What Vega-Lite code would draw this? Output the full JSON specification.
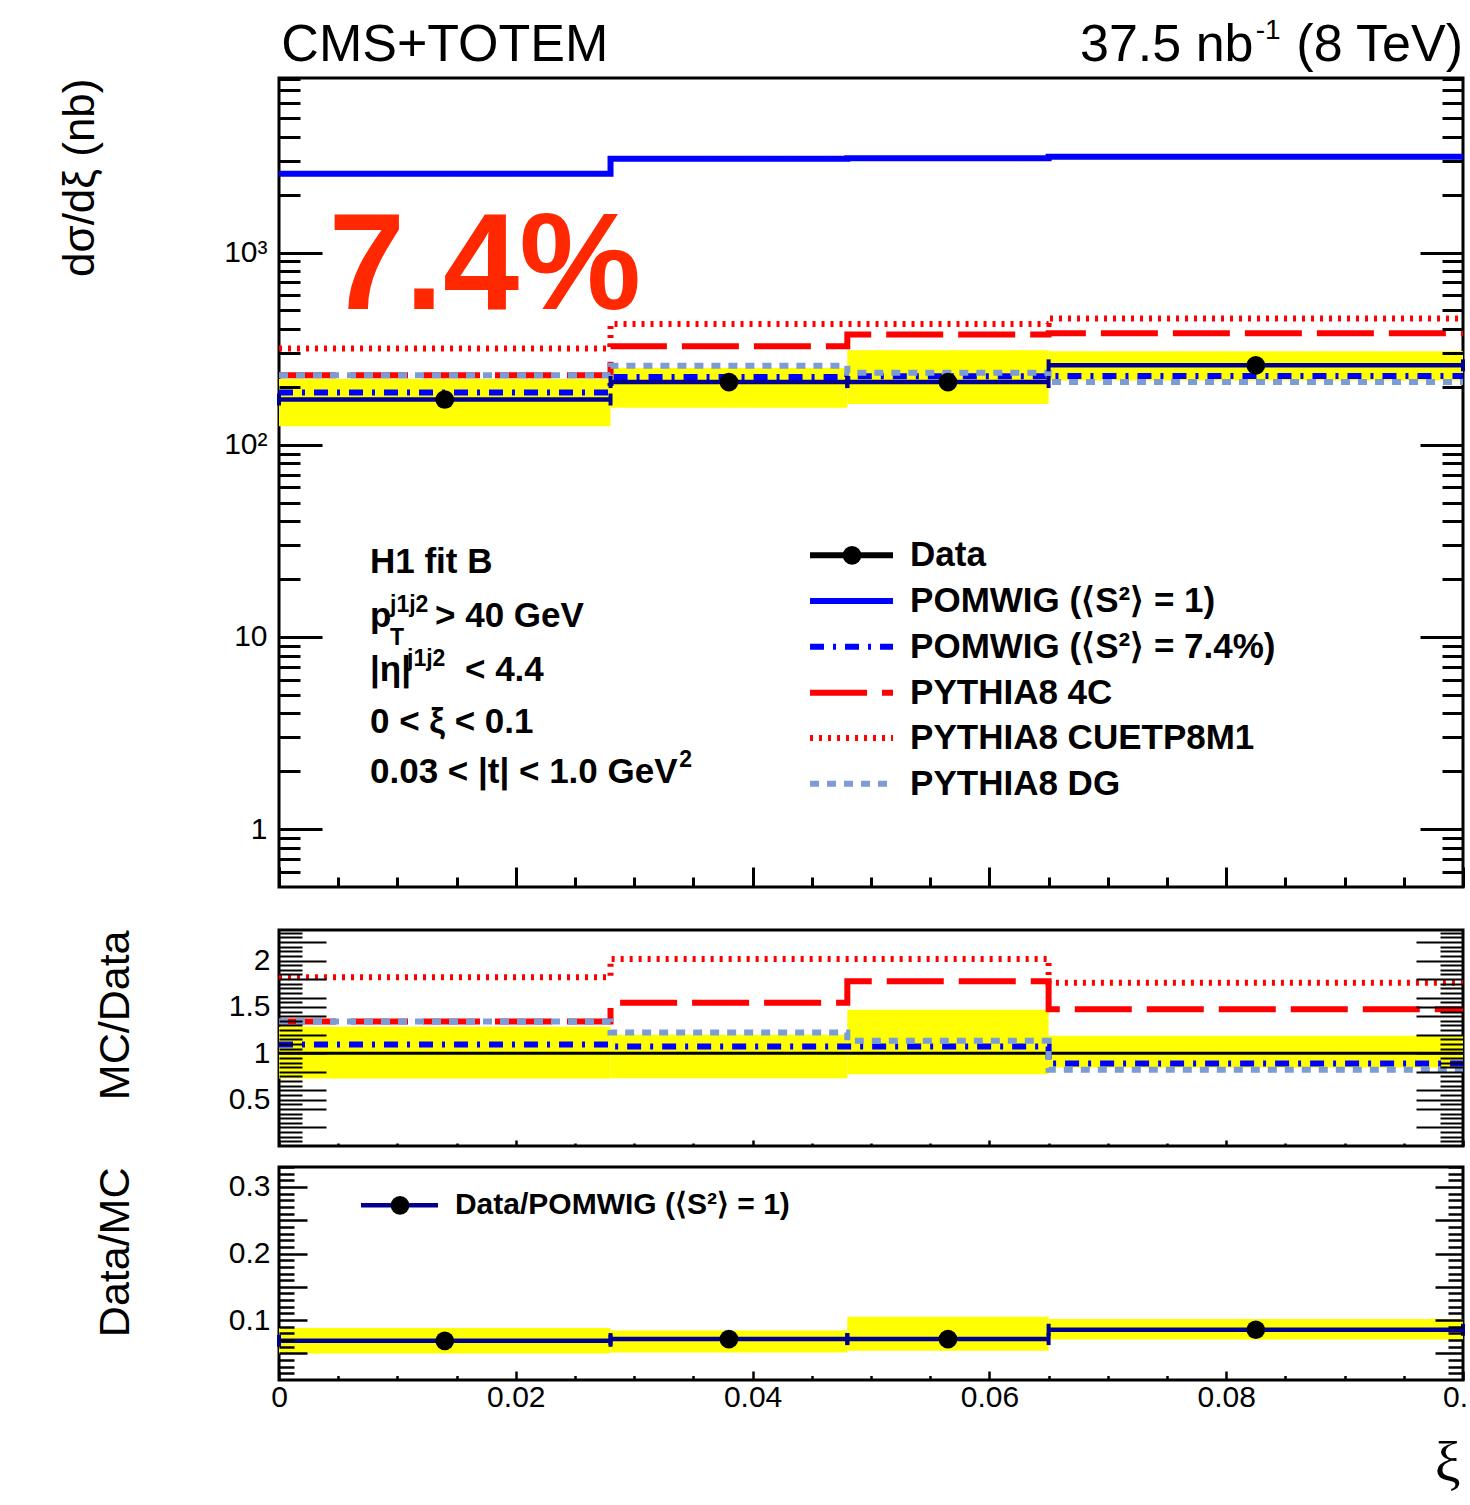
{
"$schema":"https://vega.github.io/schema/vega-lite/v6.json",
"background":"white",
"padding":{"left":56,"top":15,"right":0,"bottom":0},
"config":{"font":"Liberation Sans","view":{"stroke":"black","strokeWidth":3},
 "axis":{"labelFlush":false,"labelFont":"Liberation Sans","labelColor":"black","tickColor":"black","grid":false,"domain":false,"labelOverlap":false,"titleColor":"black","titleFontWeight":"normal","titleFont":"Liberation Sans"},
 "text":{"font":"Liberation Sans"}},
"datasets":{
 "bins":[
  {"xlo":0,"xhi":0.028,"xc":0.014,"data":172,"blo":125,"bhi":220,"rblo":0.728,"rbhi":1.286,"dm":0.0689,"dmlo":0.050,"dmhi":0.088},
  {"xlo":0.028,"xhi":0.048,"xc":0.038,"data":212,"blo":156,"bhi":251,"rblo":0.732,"rbhi":1.2,"dm":0.0715,"dmlo":0.0514,"dmhi":0.0845},
  {"xlo":0.048,"xhi":0.065,"xc":0.0565,"data":212,"blo":163,"bhi":310,"rblo":0.775,"rbhi":1.47,"dm":0.0715,"dmlo":0.054,"dmhi":0.105},
  {"xlo":0.065,"xhi":0.1,"xc":0.0825,"data":259,"blo":216,"bhi":307,"rblo":0.847,"rbhi":1.189,"dm":0.0855,"dmlo":0.071,"dmhi":0.1015}
 ],
 "mc":[
  {"s":"pw1","x":0,"v":2572},{"s":"pw1","x":0.028,"v":3081},{"s":"pw1","x":0.048,"v":3100},{"s":"pw1","x":0.065,"v":3150},{"s":"pw1","x":0.1,"v":3150},
  {"s":"pw74","x":0,"v":187,"r":1.094},{"s":"pw74","x":0.028,"v":225,"r":1.074},{"s":"pw74","x":0.048,"v":227,"r":1.074},{"s":"pw74","x":0.065,"v":228,"r":0.89},{"s":"pw74","x":0.1,"v":228,"r":0.89},
  {"s":"p4c","x":0,"v":230,"r":1.342},{"s":"p4c","x":0.028,"v":326,"r":1.546},{"s":"p4c","x":0.048,"v":375,"r":1.776},{"s":"p4c","x":0.065,"v":381,"r":1.474},{"s":"p4c","x":0.1,"v":381,"r":1.474},
  {"s":"cuetp","x":0,"v":317,"r":1.82},{"s":"cuetp","x":0.028,"v":425,"r":2.018},{"s":"cuetp","x":0.048,"v":425,"r":2.018},{"s":"cuetp","x":0.065,"v":454,"r":1.762},{"s":"cuetp","x":0.1,"v":454,"r":1.762},
  {"s":"dg","x":0,"v":230,"r":1.342},{"s":"dg","x":0.028,"v":258,"r":1.225},{"s":"dg","x":0.048,"v":237,"r":1.135},{"s":"dg","x":0.065,"v":212,"r":0.822},{"s":"dg","x":0.1,"v":212,"r":0.822}
 ],
 "legend":[
  {"s":"data","label":"Data","ly":26.6},
  {"s":"pw1","label":"POMWIG (⟨S²⟩ = 1)","ly":15.39},
  {"s":"pw74","label":"POMWIG (⟨S²⟩ = 7.4%)","ly":8.90},
  {"s":"p4c","label":"PYTHIA8 4C","ly":5.13},
  {"s":"cuetp","label":"PYTHIA8 CUETP8M1","ly":2.98},
  {"s":"dg","label":"PYTHIA8 DG","ly":1.725}
 ],
 "notes":[
  {"kind":"head","t":"CMS+TOTEM","x":0.0002,"y":9930},
  {"kind":"head","t":"37.5 nb","x":0.06765,"y":9930},
  {"kind":"headR","t":"(8 TeV)","x":0.1,"y":9930},
  {"kind":"headsup","t":"-1","x":0.0825,"y":12925},
  {"kind":"pct","t":"7.4%","x":0.0042,"y":509},
  {"kind":"info","t":"H1 fit B","x":0.007686,"y":21.61},
  {"kind":"info","t":"p","x":0.007686,"y":11.27},
  {"kind":"info","t":"> 40 GeV","x":0.013176,"y":11.27},
  {"kind":"info","t":"|η|","x":0.007686,"y":5.904},
  {"kind":"info","t":"< 4.4","x":0.015709,"y":5.904},
  {"kind":"info","t":"0 < ξ < 0.1","x":0.007686,"y":3.178},
  {"kind":"info","t":"0.03 < |t| < 1.0 GeV","x":0.007686,"y":1.746},
  {"kind":"sup","t":"j1j2","x":0.009375,"y":13.49},
  {"kind":"sup","t":"T","x":0.009375,"y":9.09},
  {"kind":"sup","t":"j1j2","x":0.010811,"y":7.068},
  {"kind":"sup","t":"2","x":0.0338,"y":2.107}
 ],
 "dmleg":[{"label":"Data/POMWIG (⟨S²⟩ = 1)","ly":0.2725}]
},
"bounds":"flush",
"spacing":43,
"vconcat":[
{
 "width":1184,"height":809,
 "resolve":{"axis":{"x":"independent","y":"independent"}},
 "layer":[
  {"data":{"name":"bins"},"mark":{"type":"rect","color":"#ffff00"},
   "encoding":{
    "x":{"field":"xlo","type":"quantitative","scale":{"domain":[0,0.1],"nice":false,"zero":false},
     "axis":{"orient":"bottom","values":[0,0.005,0.01,0.015,0.02,0.025,0.03,0.035,0.04,0.045,0.05,0.055,0.06,0.065,0.07,0.075,0.08,0.085,0.09,0.095,0.1],"labels":false,"title":null,"tickWidth":3,"tickSize":{"condition":{"test":"round(datum.value*1000) % 20 == 0","value":-20},"value":-10},"zindex":1}},
    "x2":{"field":"xhi"},
    "y":{"field":"blo","type":"quantitative","scale":{"type":"log","domain":[0.5,8100],"nice":false},
     "axis":{"orient":"left","values":[0.6,0.7,0.8,0.9,1,2,3,4,5,6,7,8,9,10,20,30,40,50,60,70,80,90,100,200,300,400,500,600,700,800,900,1000,2000,3000,4000,5000,6000,7000,8000],
      "labelExpr":"datum.value == 1000 ? '10³' : datum.value == 100 ? '10²' : datum.value == 10 ? '10' : datum.value == 1 ? '1' : ''",
      "labelFontSize":30,"labelPadding":55,"tickWidth":3,
      "tickSize":{"condition":{"test":"datum.value == 1 || datum.value == 10 || datum.value == 100 || datum.value == 1000","value":-43},"value":-21},
      "title":"dσ/dξ (nb)","titleFontSize":44,"titleAngle":270,"titleAlign":"right","titleBaseline":"middle","titleX":-199,"titleY":0,"zindex":1}},
    "y2":{"field":"bhi"}}},
  {"data":{"name":"mc"},"mark":{"type":"line","interpolate":"step-after","strokeWidth":6,"clip":true},
   "encoding":{
    "x":{"field":"x","type":"quantitative","scale":{"domain":[0,0.1],"nice":false,"zero":false},"axis":null},
    "y":{"field":"v","type":"quantitative","scale":{"type":"log","domain":[0.5,8100],"nice":false},"axis":null},
    "color":{"field":"s","type":"nominal","scale":{"domain":["data","pw1","pw74","p4c","cuetp","dg"],"range":["#000000","#0000ff","#0000ff","#ff0000","#ff0000","#7b9cd4"]},"legend":null},
    "strokeDash":{"field":"s","type":"nominal","scale":{"domain":["data","pw1","pw74","p4c","cuetp","dg"],"range":[[1,0],[1,0],[14,9,3,9],[57,15],[3,6],[9,8]]},"legend":null}}},
  {"data":{"name":"bins"},"mark":{"type":"rule","color":"#000090","strokeWidth":4.5},
   "encoding":{
    "x":{"field":"xlo","type":"quantitative","scale":{"domain":[0,0.1],"nice":false,"zero":false},"axis":null},
    "x2":{"field":"xhi"},
    "y":{"field":"data","type":"quantitative","scale":{"type":"log","domain":[0.5,8100],"nice":false},"axis":null}}},
  {"data":{"name":"bins"},"mark":{"type":"tick","orient":"vertical","size":12,"thickness":4,"color":"#000090","opacity":1},
   "encoding":{
    "x":{"field":"xlo","type":"quantitative","scale":{"domain":[0,0.1],"nice":false,"zero":false},"axis":null},
    "y":{"field":"data","type":"quantitative","scale":{"type":"log","domain":[0.5,8100],"nice":false},"axis":null}}},
  {"data":{"name":"bins"},"mark":{"type":"tick","orient":"vertical","size":12,"thickness":4,"color":"#000090","opacity":1},
   "encoding":{
    "x":{"field":"xhi","type":"quantitative","scale":{"domain":[0,0.1],"nice":false,"zero":false},"axis":null},
    "y":{"field":"data","type":"quantitative","scale":{"type":"log","domain":[0.5,8100],"nice":false},"axis":null}}},
  {"data":{"name":"bins"},"mark":{"type":"circle","size":350,"color":"black","opacity":1},
   "encoding":{
    "x":{"field":"xc","type":"quantitative","scale":{"domain":[0,0.1],"nice":false,"zero":false},"axis":null},
    "y":{"field":"data","type":"quantitative","scale":{"type":"log","domain":[0.5,8100],"nice":false},
     "axis":{"orient":"right","values":[0.6,0.7,0.8,0.9,1,2,3,4,5,6,7,8,9,10,20,30,40,50,60,70,80,90,100,200,300,400,500,600,700,800,900,1000,2000,3000,4000,5000,6000,7000,8000],"labels":false,"title":null,"tickWidth":3,
      "tickSize":{"condition":{"test":"datum.value == 1 || datum.value == 10 || datum.value == 100 || datum.value == 1000","value":-43},"value":-21},"zindex":1}}}},
  {"data":{"name":"legend"},"mark":{"type":"rule","strokeWidth":6},
   "encoding":{
    "x":{"datum":0.04485,"type":"quantitative","scale":{"domain":[0,0.1],"nice":false,"zero":false},"axis":null},
    "x2":{"datum":0.05186},
    "y":{"field":"ly","type":"quantitative","scale":{"type":"log","domain":[0.5,8100],"nice":false},"axis":null},
    "color":{"field":"s","type":"nominal","scale":{"domain":["data","pw1","pw74","p4c","cuetp","dg"],"range":["#000000","#0000ff","#0000ff","#ff0000","#ff0000","#7b9cd4"]},"legend":null},
    "strokeDash":{"field":"s","type":"nominal","scale":{"domain":["data","pw1","pw74","p4c","cuetp","dg"],"range":[[1,0],[1,0],[14,9,3,9],[57,15],[3,6],[9,8]]},"legend":null}}},
  {"data":{"name":"legend"},"transform":[{"filter":"datum.s == 'data'"}],"mark":{"type":"circle","size":350,"color":"black","opacity":1},
   "encoding":{
    "x":{"datum":0.0484,"type":"quantitative","scale":{"domain":[0,0.1],"nice":false,"zero":false},"axis":null},
    "y":{"field":"ly","type":"quantitative","scale":{"type":"log","domain":[0.5,8100],"nice":false},"axis":null}}},
  {"data":{"name":"legend"},"mark":{"type":"text","align":"left","baseline":"middle","fontSize":35,"fontWeight":"bold","color":"black"},
   "encoding":{
    "x":{"datum":0.05330,"type":"quantitative","scale":{"domain":[0,0.1],"nice":false,"zero":false},"axis":null},
    "y":{"field":"ly","type":"quantitative","scale":{"type":"log","domain":[0.5,8100],"nice":false},"axis":null},
    "text":{"field":"label"}}},
  {"data":{"name":"notes"},"transform":[{"filter":"datum.kind == 'info'"}],"mark":{"type":"text","align":"left","baseline":"alphabetic","fontSize":35,"fontWeight":"bold","color":"black"},
   "encoding":{
    "x":{"field":"x","type":"quantitative","scale":{"domain":[0,0.1],"nice":false,"zero":false},"axis":null},
    "y":{"field":"y","type":"quantitative","scale":{"type":"log","domain":[0.5,8100],"nice":false},"axis":null},
    "text":{"field":"t"}}},
  {"data":{"name":"notes"},"transform":[{"filter":"datum.kind == 'sup'"}],"mark":{"type":"text","align":"left","baseline":"alphabetic","fontSize":23,"fontWeight":"bold","color":"black"},
   "encoding":{
    "x":{"field":"x","type":"quantitative","scale":{"domain":[0,0.1],"nice":false,"zero":false},"axis":null},
    "y":{"field":"y","type":"quantitative","scale":{"type":"log","domain":[0.5,8100],"nice":false},"axis":null},
    "text":{"field":"t"}}},
  {"data":{"name":"notes"},"transform":[{"filter":"datum.kind == 'pct'"}],"mark":{"type":"text","align":"left","baseline":"alphabetic","fontSize":137,"fontWeight":"bold","color":"#ff2800"},
   "encoding":{
    "x":{"field":"x","type":"quantitative","scale":{"domain":[0,0.1],"nice":false,"zero":false},"axis":null},
    "y":{"field":"y","type":"quantitative","scale":{"type":"log","domain":[0.5,8100],"nice":false},"axis":null},
    "text":{"field":"t"}}},
  {"data":{"name":"notes"},"transform":[{"filter":"datum.kind == 'head'"}],"mark":{"type":"text","align":"left","baseline":"alphabetic","fontSize":52,"color":"black"},
   "encoding":{
    "x":{"field":"x","type":"quantitative","scale":{"domain":[0,0.1],"nice":false,"zero":false},"axis":null},
    "y":{"field":"y","type":"quantitative","scale":{"type":"log","domain":[0.5,8100],"nice":false},"axis":null},
    "text":{"field":"t"}}},
  {"data":{"name":"notes"},"transform":[{"filter":"datum.kind == 'headR'"}],"mark":{"type":"text","align":"right","baseline":"alphabetic","fontSize":52,"color":"black"},
   "encoding":{
    "x":{"field":"x","type":"quantitative","scale":{"domain":[0,0.1],"nice":false,"zero":false},"axis":null},
    "y":{"field":"y","type":"quantitative","scale":{"type":"log","domain":[0.5,8100],"nice":false},"axis":null},
    "text":{"field":"t"}}},
  {"data":{"name":"notes"},"transform":[{"filter":"datum.kind == 'headsup'"}],"mark":{"type":"text","align":"left","baseline":"alphabetic","fontSize":28,"color":"black"},
   "encoding":{
    "x":{"field":"x","type":"quantitative","scale":{"domain":[0,0.1],"nice":false,"zero":false},"axis":null},
    "y":{"field":"y","type":"quantitative","scale":{"type":"log","domain":[0.5,8100],"nice":false},"axis":null},
    "text":{"field":"t"}}}
 ]
},
{
 "bounds":"flush",
 "spacing":21,
 "vconcat":[
 {
  "width":1184,"height":216,
  "resolve":{"axis":{"x":"independent","y":"independent"}},
  "layer":[
   {"data":{"name":"bins"},"mark":{"type":"rect","color":"#ffff00"},
    "encoding":{
     "x":{"field":"xlo","type":"quantitative","scale":{"domain":[0,0.1],"nice":false,"zero":false},
      "axis":{"orient":"bottom","values":[0,0.005,0.01,0.015,0.02,0.025,0.03,0.035,0.04,0.045,0.05,0.055,0.06,0.065,0.07,0.075,0.08,0.085,0.09,0.095,0.1],"labels":false,"title":null,"tickWidth":2.5,"tickSize":{"condition":{"test":"round(datum.value*1000) % 20 == 0","value":-6},"value":-3},"zindex":1}},
     "x2":{"field":"xhi"},
     "y":{"field":"rblo","type":"quantitative","scale":{"domain":[0,2.33],"nice":false,"zero":false},
      "axis":{"orient":"left","values":[0.05,0.1,0.15,0.2,0.25,0.3,0.35,0.4,0.45,0.5,0.55,0.6,0.65,0.7,0.75,0.8,0.85,0.9,0.95,1,1.05,1.1,1.15,1.2,1.25,1.3,1.35,1.4,1.45,1.5,1.55,1.6,1.65,1.7,1.75,1.8,1.85,1.9,1.95,2,2.05,2.1,2.15,2.2,2.25,2.3],
       "labelExpr":"round(datum.value*100) % 50 == 0 ? toString(datum.value) : ''",
       "labelFontSize":30,"labelPadding":56,"tickWidth":2,
       "tickSize":{"condition":{"test":"round(datum.value*100) % 20 == 0 || round(datum.value*100) % 50 == 0","value":-47},"value":-23},
       "title":"MC/Data","titleFontSize":43,"titleAngle":270,"titleAlign":"right","titleBaseline":"middle","titleX":-164,"titleY":0,"zindex":1}},
     "y2":{"field":"rbhi"}}},
   {"data":{"values":[{}]},"mark":{"type":"rule","color":"black","strokeWidth":3},
    "encoding":{"y":{"datum":1,"type":"quantitative","scale":{"domain":[0,2.33],"nice":false,"zero":false},"axis":null}}},
   {"data":{"name":"mc"},"transform":[{"filter":"datum.s != 'pw1'"}],"mark":{"type":"line","interpolate":"step-after","strokeWidth":6,"clip":true},
    "encoding":{
     "x":{"field":"x","type":"quantitative","scale":{"domain":[0,0.1],"nice":false,"zero":false},"axis":null},
     "y":{"field":"r","type":"quantitative","scale":{"domain":[0,2.33],"nice":false,"zero":false},
      "axis":{"orient":"right","values":[0.05,0.1,0.15,0.2,0.25,0.3,0.35,0.4,0.45,0.5,0.55,0.6,0.65,0.7,0.75,0.8,0.85,0.9,0.95,1,1.05,1.1,1.15,1.2,1.25,1.3,1.35,1.4,1.45,1.5,1.55,1.6,1.65,1.7,1.75,1.8,1.85,1.9,1.95,2,2.05,2.1,2.15,2.2,2.25,2.3],"labels":false,"title":null,"tickWidth":2,
       "tickSize":{"condition":{"test":"round(datum.value*100) % 20 == 0 || round(datum.value*100) % 50 == 0","value":-47},"value":-23},"zindex":1}},
     "color":{"field":"s","type":"nominal","scale":{"domain":["data","pw1","pw74","p4c","cuetp","dg"],"range":["#000000","#0000ff","#0000ff","#ff0000","#ff0000","#7b9cd4"]},"legend":null},
     "strokeDash":{"field":"s","type":"nominal","scale":{"domain":["data","pw1","pw74","p4c","cuetp","dg"],"range":[[1,0],[1,0],[14,9,3,9],[57,15],[3,6],[9,8]]},"legend":null}}}
  ]
 },
 {
  "width":1184,"height":213,
  "resolve":{"axis":{"x":"independent","y":"independent"}},
  "layer":[
   {"data":{"name":"bins"},"mark":{"type":"rect","color":"#ffff00"},
    "encoding":{
     "x":{"field":"xlo","type":"quantitative","scale":{"domain":[0,0.1],"nice":false,"zero":false},
      "axis":{"orient":"bottom","values":[0,0.005,0.01,0.015,0.02,0.025,0.03,0.035,0.04,0.045,0.05,0.055,0.06,0.065,0.07,0.075,0.08,0.085,0.09,0.095,0.1],
       "labelExpr":"round(datum.value*1000) % 20 == 0 ? (datum.value >= 0.1 ? '0.' : toString(datum.value)) : ''",
       "labelOffset":{"condition":{"test":"datum.value >= 0.1","value":-8},"value":0},
       "labelFontSize":30,"labelPadding":11,"tickWidth":2.5,
       "tickSize":{"condition":{"test":"round(datum.value*1000) % 20 == 0","value":-9},"value":-4.5},
       "title":"ξ","titleFont":"Liberation Serif","titleFontSize":58,"titleAnchor":"end","titleAlign":"right","titleBaseline":"alphabetic","titleX":1181,"titleY":100,"zindex":1}},
     "x2":{"field":"xhi"},
     "y":{"field":"dmlo","type":"quantitative","scale":{"domain":[0.01,0.33],"nice":false,"zero":false},
      "axis":{"orient":"left","values":[0.02,0.03,0.04,0.05,0.06,0.07,0.08,0.09,0.1,0.11,0.12,0.13,0.14,0.15,0.16,0.17,0.18,0.19,0.2,0.21,0.22,0.23,0.24,0.25,0.26,0.27,0.28,0.29,0.3,0.31,0.32,0.33],
       "labelExpr":"round(datum.value*100) % 10 == 0 ? toString(datum.value) : ''",
       "labelFontSize":30,"labelPadding":37,"tickWidth":2.5,
       "tickSize":{"condition":{"test":"round(datum.value*100) % 5 == 0","value":-28},"value":-15},
       "title":"Data/MC","titleFontSize":43,"titleAngle":270,"titleAlign":"right","titleBaseline":"middle","titleX":-164,"titleY":0,"zindex":1}},
     "y2":{"field":"dmhi"}}},
   {"data":{"name":"bins"},"mark":{"type":"rule","color":"#000090","strokeWidth":4.5},
    "encoding":{
     "x":{"field":"xlo","type":"quantitative","scale":{"domain":[0,0.1],"nice":false,"zero":false},"axis":null},
     "x2":{"field":"xhi"},
     "y":{"field":"dm","type":"quantitative","scale":{"domain":[0.01,0.33],"nice":false,"zero":false},"axis":null}}},
   {"data":{"name":"bins"},"mark":{"type":"tick","orient":"vertical","size":12,"thickness":4,"color":"#000090","opacity":1},
    "encoding":{
     "x":{"field":"xlo","type":"quantitative","scale":{"domain":[0,0.1],"nice":false,"zero":false},"axis":null},
     "y":{"field":"dm","type":"quantitative","scale":{"domain":[0.01,0.33],"nice":false,"zero":false},"axis":null}}},
   {"data":{"name":"bins"},"mark":{"type":"tick","orient":"vertical","size":12,"thickness":4,"color":"#000090","opacity":1},
    "encoding":{
     "x":{"field":"xhi","type":"quantitative","scale":{"domain":[0,0.1],"nice":false,"zero":false},"axis":null},
     "y":{"field":"dm","type":"quantitative","scale":{"domain":[0.01,0.33],"nice":false,"zero":false},"axis":null}}},
   {"data":{"name":"bins"},"mark":{"type":"circle","size":350,"color":"black","opacity":1},
    "encoding":{
     "x":{"field":"xc","type":"quantitative","scale":{"domain":[0,0.1],"nice":false,"zero":false},"axis":null},
     "y":{"field":"dm","type":"quantitative","scale":{"domain":[0.01,0.33],"nice":false,"zero":false},
      "axis":{"orient":"right","values":[0.02,0.03,0.04,0.05,0.06,0.07,0.08,0.09,0.1,0.11,0.12,0.13,0.14,0.15,0.16,0.17,0.18,0.19,0.2,0.21,0.22,0.23,0.24,0.25,0.26,0.27,0.28,0.29,0.3,0.31,0.32,0.33],"labels":false,"title":null,"tickWidth":2.5,
       "tickSize":{"condition":{"test":"round(datum.value*100) % 5 == 0","value":-28},"value":-15},"zindex":1}}}},
   {"data":{"name":"dmleg"},"mark":{"type":"rule","color":"#000090","strokeWidth":4.5},
    "encoding":{
     "x":{"datum":0.006925,"type":"quantitative","scale":{"domain":[0,0.1],"nice":false,"zero":false},"axis":null},
     "x2":{"datum":0.01343},
     "y":{"field":"ly","type":"quantitative","scale":{"domain":[0.01,0.33],"nice":false,"zero":false},"axis":null}}},
   {"data":{"name":"dmleg"},"mark":{"type":"circle","size":350,"color":"black","opacity":1},
    "encoding":{
     "x":{"datum":0.01022,"type":"quantitative","scale":{"domain":[0,0.1],"nice":false,"zero":false},"axis":null},
     "y":{"field":"ly","type":"quantitative","scale":{"domain":[0.01,0.33],"nice":false,"zero":false},"axis":null}}},
   {"data":{"name":"dmleg"},"mark":{"type":"text","align":"left","baseline":"middle","fontSize":30,"fontWeight":"bold","color":"black"},
    "encoding":{
     "x":{"datum":0.01486,"type":"quantitative","scale":{"domain":[0,0.1],"nice":false,"zero":false},"axis":null},
     "y":{"field":"ly","type":"quantitative","scale":{"domain":[0.01,0.33],"nice":false,"zero":false},"axis":null},
     "text":{"field":"label"}}}
  ]
 }
 ]
}
]
}
